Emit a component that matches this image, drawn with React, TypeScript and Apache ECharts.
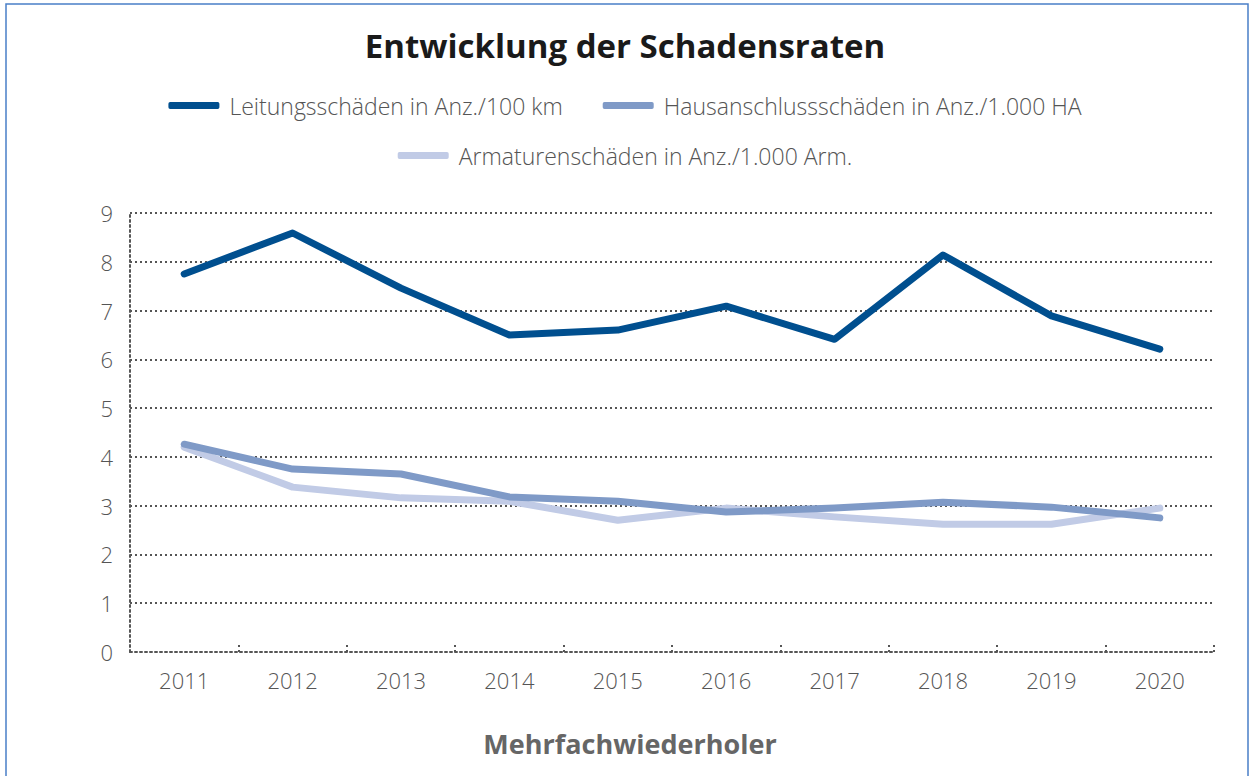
import React, { useEffect, useRef } from "react";
import * as echarts from "echarts";

const years = ["2011", "2012", "2013", "2014", "2015", "2016", "2017", "2018", "2019", "2020"];
const leitung = [7.75, 8.59, 7.46, 6.5, 6.6, 7.09, 6.41, 8.14, 6.89, 6.21];
const hausanschluss = [4.26, 3.75, 3.65, 3.18, 3.09, 2.87, 2.95, 3.07, 2.97, 2.75];
const armaturen = [4.2, 3.38, 3.16, 3.09, 2.7, 2.95, 2.77, 2.62, 2.62, 2.95];
const seriesNames = [
  "Leitungsschäden in Anz./100 km",
  "Hausanschlussschäden in Anz./1.000 HA",
  "Armaturenschäden in Anz./1.000 Arm.",
];
const colors = ["#004f8f", "#7f9ac7", "#c1cbe6"];

const FONT = "'Open Sans', 'Noto Sans', sans-serif";

export default function App() {
  const ref = useRef<HTMLDivElement>(null);
  useEffect(() => {
    document.body.style.margin = "0";
    const chart = echarts.init(ref.current!, undefined, { renderer: "svg" });
    const dotted = { type: [2, 3] as any, color: "#555", width: 2 };
    const legendText = {
      fontFamily: FONT,
      fontSize: 23,
      color: "#555",
      fontWeight: 300,
      padding: [0, 0, 0, 5],
    };
    chart.setOption({
      animation: false,
      backgroundColor: "#fff",
      title: {
        text: "Entwicklung der Schadensraten",
        left: "center",
        top: 24,
        textStyle: { fontFamily: FONT, fontWeight: "bold", fontSize: 33, color: "#1a1a1a" },
      },
      legend: [
        {
          data: [seriesNames[0], seriesNames[1]],
          top: 89,
          left: "center",
          itemGap: 40,
          itemWidth: 51,
          itemHeight: 7,
          icon: "roundRect",
          textStyle: legendText,
        },
        {
          data: [seriesNames[2]],
          top: 139,
          left: "center",
          itemWidth: 51,
          itemHeight: 7,
          icon: "roundRect",
          textStyle: legendText,
        },
      ],
      graphic: [
        {
          type: "rect",
          shape: { x: 6, y: 4, width: 1242, height: 820 },
          style: { fill: "none", stroke: "#4a7fc8", lineWidth: 1.5 },
          silent: true,
        },
        {
          type: "text",
          x: 630,
          y: 743,
          style: {
            text: "Mehrfachwiederholer",
            fontFamily: FONT,
            fontSize: 27,
            fontWeight: "bold",
            fill: "#666",
            align: "center",
            verticalAlign: "middle",
          },
          silent: true,
        },
      ],
      grid: { left: 130, right: 36, top: 213, bottom: 124 },
      xAxis: {
        type: "category",
        data: years,
        boundaryGap: true,
        axisLine: { show: true, lineStyle: dotted },
        axisTick: { show: true, inside: true, length: 9, lineStyle: dotted },
        axisLabel: { fontFamily: FONT, fontSize: 22, color: "#555", margin: 17, fontWeight: 300 },
      },
      yAxis: {
        type: "value",
        min: 0,
        max: 9,
        interval: 1,
        axisLine: { show: true, lineStyle: dotted },
        axisTick: { show: false },
        splitLine: { show: true, lineStyle: dotted },
        axisLabel: { fontFamily: FONT, fontSize: 22, color: "#555", margin: 17, fontWeight: 300 },
      },
      series: [
        {
          name: seriesNames[0],
          type: "line",
          data: leitung,
          showSymbol: false,
          symbol: "none",
          z: 4,
          color: colors[0],
          lineStyle: { width: 7, color: colors[0], cap: "round", join: "round" },
        },
        {
          name: seriesNames[1],
          type: "line",
          data: hausanschluss,
          showSymbol: false,
          symbol: "none",
          z: 3,
          color: colors[1],
          lineStyle: { width: 7, color: colors[1], cap: "round", join: "round" },
        },
        {
          name: seriesNames[2],
          type: "line",
          data: armaturen,
          showSymbol: false,
          symbol: "none",
          z: 2,
          color: colors[2],
          lineStyle: { width: 7, color: colors[2], cap: "round", join: "round" },
        },
      ],
    });
    return () => chart.dispose();
  }, []);
  return <div ref={ref} style={{ width: 1250, height: 776, position: "absolute", left: 0, top: 0 }} />;
}
